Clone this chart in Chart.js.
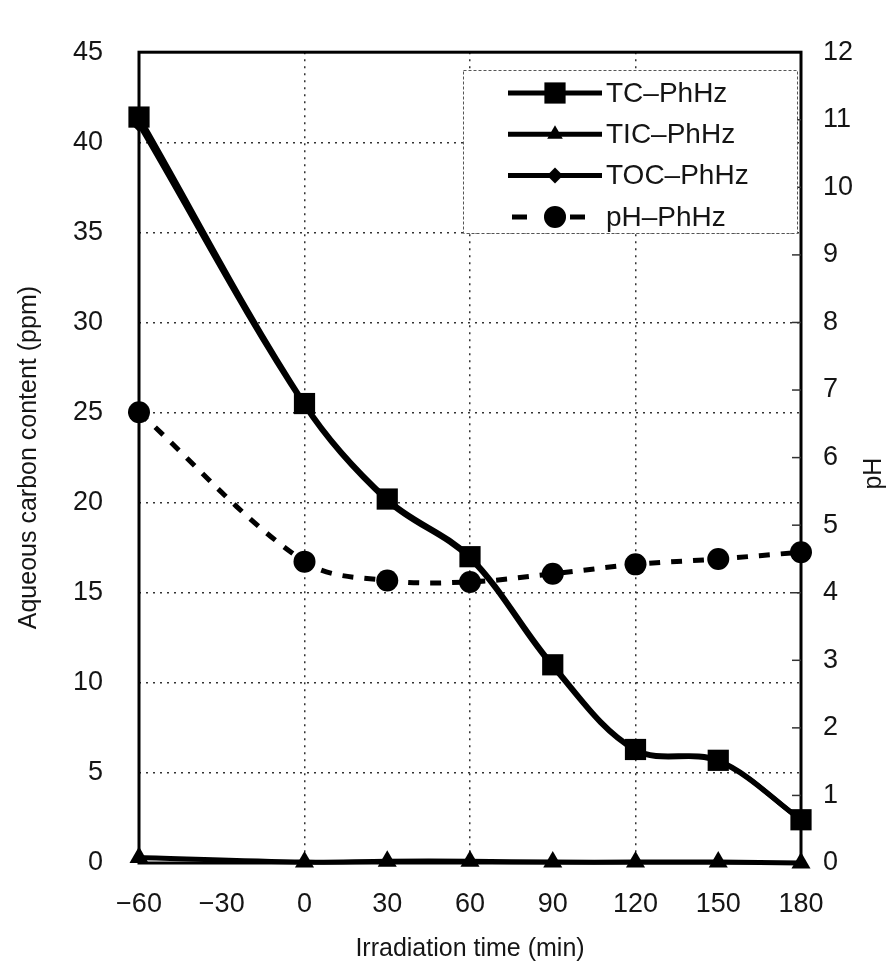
<!DOCTYPE html>
<html>
<head>
<meta charset="utf-8">
<script src="https://cdn.jsdelivr.net/npm/chart.js@4.4.1/dist/chart.umd.min.js"></script>
<style>
  html, body { margin: 0; padding: 0; background: #fff; }
  canvas { display: block; }
</style>
</head>
<body>
<canvas id="chart" width="890" height="979" style="width:890px;height:979px"></canvas>
<script>
// Sampling times (min) and measured series
const timeMin  = [-60, 0, 30, 60, 90, 120, 150, 180];
const tcPhHz   = [41.4, 25.5, 20.2, 17.0, 11.0, 6.3, 5.7, 2.4];
const ticPhHz  = [0.3, 0.05, 0.1, 0.1, 0.05, 0.05, 0.05, 0.0];
const tocPhHz  = [41.0, 25.4, 20.1, 16.9, 10.9, 6.25, 5.65, 2.4];
const phPhHz   = [6.67, 4.46, 4.18, 4.16, 4.28, 4.42, 4.5, 4.6];
const seriesNames = ['TC\u2013PhHz', 'TIC\u2013PhHz', 'TOC\u2013PhHz', 'pH\u2013PhHz'];

// Axis ranges / tick steps
const carbonRange = [0, 45], carbonStep = 5;
const phRange = [0, 12], phStep = 1;
const timeRange = [-60, 180], timeStep = 30;
const timeGridAt = [0, 60, 120];

const FONT = "'Liberation Sans', Arial, Helvetica, sans-serif";
const INK = '#151515';
Chart.defaults.font.family = FONT;
Chart.defaults.color = INK;

const pts = vals => vals.map((v, i) => ({ x: timeMin[i], y: v }));

const lineBase = {
  borderColor: '#000', backgroundColor: '#000', pointBackgroundColor: '#000',
  pointBorderWidth: 0, borderWidth: 5, tension: 0.35, clip: false
};

const datasets = [
  Object.assign({}, lineBase, { label: seriesNames[0], data: pts(tcPhHz), yAxisID: 'y', pointStyle: 'rect', pointRadius: 15 }),
  Object.assign({}, lineBase, { label: seriesNames[1], data: pts(ticPhHz), yAxisID: 'y', pointStyle: 'triangle', pointRadius: 11 }),
  Object.assign({}, lineBase, { label: seriesNames[2], data: pts(tocPhHz), yAxisID: 'y', pointStyle: 'rectRot', pointRadius: 8 }),
  Object.assign({}, lineBase, { label: seriesNames[3], data: pts(phPhHz), yAxisID: 'y1', pointStyle: 'circle', pointRadius: 11, borderDash: [11, 11] })
];

// marker geometry matching Chart.js point styles
function drawMarker(ctx, style, r, x, y) {
  ctx.beginPath();
  if (style === 'rect') {
    const s = r * Math.SQRT1_2;
    ctx.rect(x - s, y - s, 2 * s, 2 * s);
  } else if (style === 'triangle') {
    let a = 0;
    ctx.moveTo(x + Math.sin(a) * r, y - Math.cos(a) * r);
    a += 2 * Math.PI / 3;
    ctx.lineTo(x + Math.sin(a) * r, y - Math.cos(a) * r);
    a += 2 * Math.PI / 3;
    ctx.lineTo(x + Math.sin(a) * r, y - Math.cos(a) * r);
    ctx.closePath();
  } else if (style === 'rectRot') {
    ctx.moveTo(x - r, y); ctx.lineTo(x, y - r); ctx.lineTo(x + r, y); ctx.lineTo(x, y + r);
    ctx.closePath();
  } else {
    ctx.arc(x, y, r, 0, Math.PI * 2);
  }
  ctx.fill();
}

const decorations = {
  id: 'decorations',
  beforeDatasetsDraw(chart) {
    const { ctx, chartArea: a, scales } = chart;
    ctx.save();
    // plot frame
    ctx.strokeStyle = '#000';
    ctx.lineWidth = 3;
    ctx.strokeRect(a.left, a.top, a.right - a.left, a.bottom - a.top);
    // short inner ticks on the pH axis
    ctx.lineWidth = 1.5;
    ctx.strokeStyle = '#333';
    scales.y1.ticks.forEach(t => {
      const y = scales.y1.getPixelForValue(t.value);
      if (t.value <= phRange[0] || t.value >= phRange[1]) return;
      ctx.beginPath();
      ctx.moveTo(a.right - 9, y);
      ctx.lineTo(a.right, y);
      ctx.stroke();
    });
    ctx.restore();
  },
  afterDraw(chart, args, opts) {
    const { ctx, chartArea: a } = chart;
    ctx.save();
    // pH axis title, reading upward
    const t = chart.options.scales.y1.title;
    ctx.translate(opts.phTitleX, (a.top + a.bottom) / 2 + opts.phTitleDy);
    ctx.rotate(-Math.PI / 2);
    ctx.font = `${t.font.size}px ${FONT}`;
    ctx.fillStyle = INK;
    ctx.textAlign = 'center';
    ctx.textBaseline = 'middle';
    ctx.fillText(t.text, 0, 0);
    ctx.restore();

    // legend box
    const L = opts.legend;
    ctx.save();
    ctx.fillStyle = '#fff';
    ctx.fillRect(L.left, L.top, L.right - L.left, L.bottom - L.top);
    ctx.strokeStyle = '#555';
    ctx.lineWidth = 1;
    ctx.setLineDash([3, 2]);
    ctx.strokeRect(L.left + 0.5, L.top + 0.5, L.right - L.left, L.bottom - L.top);
    ctx.setLineDash([]);
    chart.data.datasets.forEach((ds, i) => {
      const y = L.firstRow + i * L.rowGap;
      const xm = (L.sampleFrom + L.sampleTo) / 2;
      ctx.strokeStyle = ds.borderColor;
      ctx.fillStyle = ds.backgroundColor;
      ctx.lineWidth = ds.borderWidth;
      ctx.beginPath();
      if (ds.borderDash) {
        ctx.setLineDash(L.dashSample);
        ctx.moveTo(L.dashFrom, y);
        ctx.lineTo(L.dashTo, y);
      } else {
        ctx.moveTo(L.sampleFrom, y);
        ctx.lineTo(L.sampleTo, y);
      }
      ctx.stroke();
      ctx.setLineDash([]);
      drawMarker(ctx, ds.pointStyle, ds.pointStyle === 'triangle' ? 9 : ds.pointRadius, xm, y);
      ctx.fillStyle = INK;
      ctx.font = `${L.fontSize}px ${FONT}`;
      ctx.textAlign = 'left';
      ctx.textBaseline = 'middle';
      ctx.fillText(ds.label, L.textX, y + 1);
    });
    ctx.restore();
  }
};

const tickFont = { size: 27 };
const titleFont = { size: 25 };
const gridDots = { display: false, dash: [2, 5] };

new Chart(document.getElementById('chart'), {
  type: 'line',
  data: { datasets },
  plugins: [decorations],
  options: {
    responsive: false,
    animation: false,
    devicePixelRatio: 1,
    layout: { padding: { top: 26, left: 0, right: 0, bottom: 0 } },
    plugins: {
      legend: { display: false },
      tooltip: { enabled: false },
      decorations: {
        phTitleX: 874,
        phTitleDy: 16,
        legend: {
          left: 463, top: 70, right: 797, bottom: 233,
          firstRow: 93, rowGap: 41.3,
          sampleFrom: 508, sampleTo: 602, textX: 606,
          dashFrom: 512, dashTo: 586, dashSample: [15, 43],
          fontSize: 28
        }
      }
    },
    scales: {
      x: {
        type: 'linear', min: timeRange[0], max: timeRange[1],
        ticks: {
          stepSize: timeStep, padding: 25, font: tickFont, color: INK,
          callback: v => String(v).replace('-', '\u2212')
        },
        grid: {
          drawTicks: false, lineWidth: 1.5,
          color: c => (c.tick && timeGridAt.includes(c.tick.value)) ? '#333' : 'rgba(0,0,0,0)'
        },
        border: gridDots,
        title: { display: true, text: 'Irradiation time (min)', font: titleFont, color: INK, padding: { top: 0, bottom: 15 } },
        afterFit: s => { s.height = 116; }
      },
      y: {
        position: 'left', min: carbonRange[0], max: carbonRange[1],
        ticks: { stepSize: carbonStep, padding: 36, font: tickFont, color: INK },
        grid: {
          drawTicks: false, lineWidth: 1.5,
          color: c => (c.tick && c.tick.value > carbonRange[0] && c.tick.value < carbonRange[1]) ? '#333' : 'rgba(0,0,0,0)'
        },
        border: gridDots,
        title: { display: true, text: 'Aqueous carbon content (ppm)', font: titleFont, color: INK, padding: { top: 14, bottom: 0 } },
        afterFit: s => { s.width = 139; }
      },
      y1: {
        position: 'right', min: phRange[0], max: phRange[1],
        ticks: { stepSize: phStep, padding: 22, font: tickFont, color: INK },
        grid: { drawOnChartArea: false, drawTicks: false },
        border: { display: false },
        title: { display: false, text: 'pH', font: titleFont },
        afterFit: s => { s.width = 89; }
      }
    }
  }
});
</script>
</body>
</html>
